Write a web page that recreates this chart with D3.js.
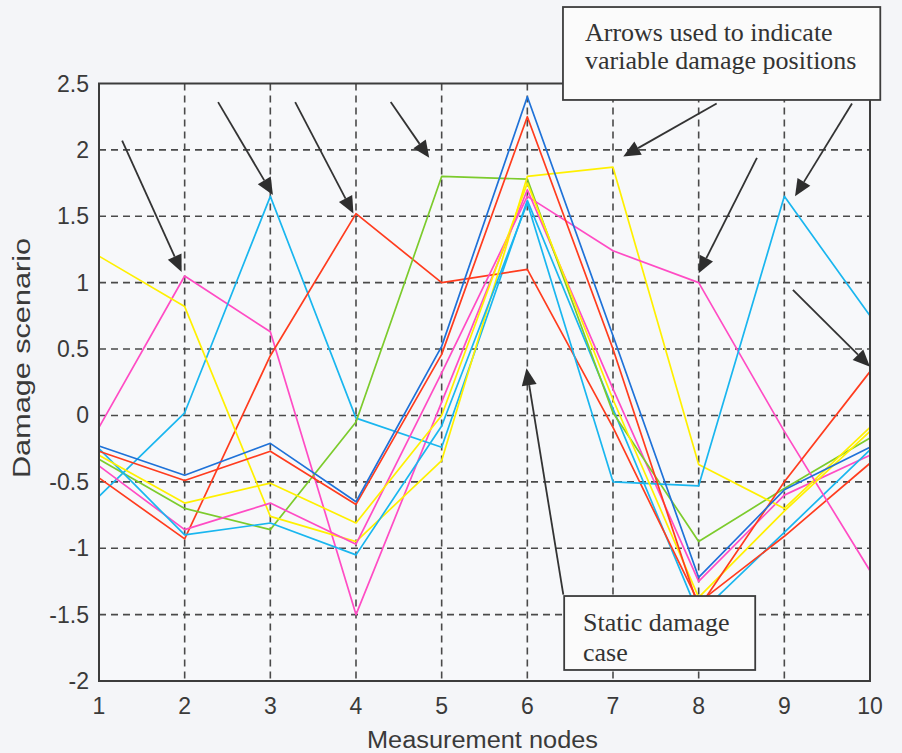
<!DOCTYPE html>
<html>
<head>
<meta charset="utf-8">
<script src="https://cdn.jsdelivr.net/npm/d3@7"></script>
<style>
  body { margin: 0; background: #f4f5f8; }
  svg { display: block; }
</style>
</head>
<body>
<svg id="chart" width="902" height="753"></svg>
<script>
// measurement nodes and axis ticks
const nodes = [1, 2, 3, 4, 5, 6, 7, 8, 9, 10];
const yTicks = [-2, -1.5, -1, -0.5, 0, 0.5, 1, 1.5, 2, 2.5];

// damage scenario curves, one value per node
const pinkA   = [-0.09, 1.05, 0.63, -1.50, 0.10, 1.70, 0.20, -1.25, -0.60, -0.30];
const cyanB   = [-0.61, 0.02, 1.65, -0.02, -0.24, 1.62, 0.05, -1.50, -0.88, -0.26];
const redC    = [-0.47, -0.93, 0.45, 1.52, 1.00, 1.10, -0.09, -1.41, -0.91, -0.36];
const greenD  = [-0.33, -0.70, -0.86, -0.05, 1.80, 1.78, 0.02, -0.95, -0.55, -0.17];
const yellowE = [1.20, 0.82, -0.76, -0.95, -0.34, 1.80, 1.87, -0.37, -0.70, -0.09];
const pinkF   = [-0.38, -0.86, -0.66, -0.97, 0.32, 1.65, 1.24, 1.00, -0.12, -1.17];
const cyanG   = [-0.25, -0.90, -0.81, -1.05, -0.08, 1.60, -0.50, -0.53, 1.65, 0.75];
const yellowY = [-0.30, -0.66, -0.51, -0.81, 0.00, 1.75, 0.12, -1.37, -0.72, -0.12];
const redH    = [-0.27, -0.49, -0.27, -0.67, 0.46, 2.25, 0.50, -1.45, -0.50, 0.33];
const blueI   = [-0.23, -0.45, -0.21, -0.65, 0.52, 2.40, 0.60, -1.22, -0.56, -0.24];

const series = [
  { values: pinkA,   color: "#ff4cc4" },
  { values: cyanB,   color: "#19b6ef" },
  { values: redC,    color: "#ff3c1e" },
  { values: greenD,  color: "#7ccb2c" },
  { values: yellowE, color: "#fff000" },
  { values: pinkF,   color: "#ff4cc4" },
  { values: cyanG,   color: "#19b6ef" },
  { values: yellowY, color: "#fff000" },
  { values: redH,    color: "#ff3c1e" },
  { values: blueI,   color: "#1f72d8" }
];

// annotation arrows, [fromNode, fromValue, toNode, toValue]
const arrows = [
  [1.27, 2.07, 1.965, 1.08],
  [2.39, 2.36, 3.03, 1.66],
  [3.29, 2.36, 3.97, 1.52],
  [4.405, 2.36, 4.855, 1.94],
  [8.21, 2.35, 7.12, 1.95],
  [8.68, 1.94, 8.0, 1.07],
  [9.79, 2.35, 9.125, 1.65],
  [9.10, 0.945, 10.0, 0.367],
  [6.42, -1.35, 5.99, 0.355]
];

const svg = d3.select("#chart");

const x = d3.scaleLinear().domain([1, 10]).range([99, 870]);
const y = d3.scaleLinear().domain([-2, 2.5]).range([681, 83.5]);

// plot background
svg.append("rect")
  .attr("x", x(1)).attr("y", y(2.5))
  .attr("width", x(10) - x(1)).attr("height", y(-2) - y(2.5))
  .attr("fill", "#f7f8fa");

// dashed grid
svg.append("g").selectAll("line")
  .data(nodes.slice(1, -1))
  .enter().append("line")
  .attr("x1", d => x(d)).attr("x2", d => x(d))
  .attr("y1", y(2.5)).attr("y2", y(-2))
  .attr("stroke", "#4a4a4a").attr("stroke-width", 1.6)
  .attr("stroke-dasharray", "7,5");

svg.append("g").selectAll("line")
  .data(yTicks.slice(1, -1))
  .enter().append("line")
  .attr("x1", x(1)).attr("x2", x(10))
  .attr("y1", d => y(d)).attr("y2", d => y(d))
  .attr("stroke", "#4a4a4a").attr("stroke-width", 1.6)
  .attr("stroke-dasharray", "7,5");

// curves
const line = d3.line()
  .x((d, i) => x(nodes[i]))
  .y(d => y(d));

svg.append("g").selectAll("path")
  .data(series)
  .enter().append("path")
  .attr("d", d => line(d.values))
  .attr("fill", "none")
  .attr("stroke", d => d.color)
  .attr("stroke-width", 1.7)
  .attr("stroke-linejoin", "round");

// axes frame
svg.append("rect")
  .attr("x", x(1)).attr("y", y(2.5))
  .attr("width", x(10) - x(1)).attr("height", y(-2) - y(2.5))
  .attr("fill", "none").attr("stroke", "#3c3c3c").attr("stroke-width", 2);

// tick labels
svg.append("g").selectAll("text")
  .data(yTicks)
  .enter().append("text")
  .attr("x", 89).attr("y", d => y(d) + 8)
  .attr("text-anchor", "end")
  .attr("font-family", "Liberation Sans, Arial, sans-serif")
  .attr("font-size", 23).attr("fill", "#3a3a3a")
  .text(d => d);

svg.append("g").selectAll("text")
  .data(nodes)
  .enter().append("text")
  .attr("x", d => x(d)).attr("y", 714)
  .attr("text-anchor", "middle")
  .attr("font-family", "Liberation Sans, Arial, sans-serif")
  .attr("font-size", 23).attr("fill", "#3a3a3a")
  .text(d => d);

svg.append("text")
  .attr("x", 367).attr("y", 748)
  .attr("textLength", 231).attr("lengthAdjust", "spacingAndGlyphs")
  .attr("font-family", "Liberation Sans, Arial, sans-serif")
  .attr("font-size", 23).attr("fill", "#3a3a3a")
  .text("Measurement nodes");

svg.append("text")
  .attr("transform", "translate(30,478) rotate(-90)")
  .attr("textLength", 240).attr("lengthAdjust", "spacingAndGlyphs")
  .attr("font-family", "Liberation Sans, Arial, sans-serif")
  .attr("font-size", 23).attr("fill", "#3a3a3a")
  .text("Damage scenario");

// arrows
const arrowG = svg.append("g");
arrows.forEach(a => {
  const x0 = x(a[0]), y0 = y(a[1]), x1 = x(a[2]), y1 = y(a[3]);
  const len = Math.hypot(x1 - x0, y1 - y0);
  const ux = (x1 - x0) / len, uy = (y1 - y0) / len;
  const hl = 17, hw = 7.5;
  const bx = x1 - ux * hl, by = y1 - uy * hl;
  arrowG.append("line")
    .attr("x1", x0).attr("y1", y0).attr("x2", bx).attr("y2", by)
    .attr("stroke", "#333").attr("stroke-width", 1.8);
  arrowG.append("polygon")
    .attr("points", [[x1, y1], [bx - uy * hw, by + ux * hw], [bx + uy * hw, by - ux * hw]].join(" "))
    .attr("fill", "#2e2e2e");
});

// text boxes
const serif = "Liberation Serif, Times New Roman, serif";

svg.append("rect")
  .attr("x", x(6.416)).attr("y", y(3.076))
  .attr("width", x(10.12) - x(6.416)).attr("height", y(2.376) - y(3.076))
  .attr("fill", "#fbfbfb").attr("stroke", "#3c3c3c").attr("stroke-width", 1.8);

svg.append("text")
  .attr("x", 585).attr("y", 41)
  .attr("font-family", serif).attr("font-size", 26).attr("fill", "#333")
  .text("Arrows used to indicate");
svg.append("text")
  .attr("x", 585).attr("y", 69)
  .attr("font-family", serif).attr("font-size", 26).attr("fill", "#333")
  .text("variable damage positions");

svg.append("rect")
  .attr("x", x(6.43)).attr("y", y(-1.36))
  .attr("width", x(8.66) - x(6.43)).attr("height", y(-1.917) - y(-1.36))
  .attr("fill", "#fbfbfb").attr("stroke", "#3c3c3c").attr("stroke-width", 1.8);

svg.append("text")
  .attr("x", 583).attr("y", 631)
  .attr("font-family", serif).attr("font-size", 26).attr("fill", "#333")
  .text("Static damage");
svg.append("text")
  .attr("x", 583).attr("y", 661)
  .attr("font-family", serif).attr("font-size", 26).attr("fill", "#333")
  .text("case");
</script>
</body>
</html>
